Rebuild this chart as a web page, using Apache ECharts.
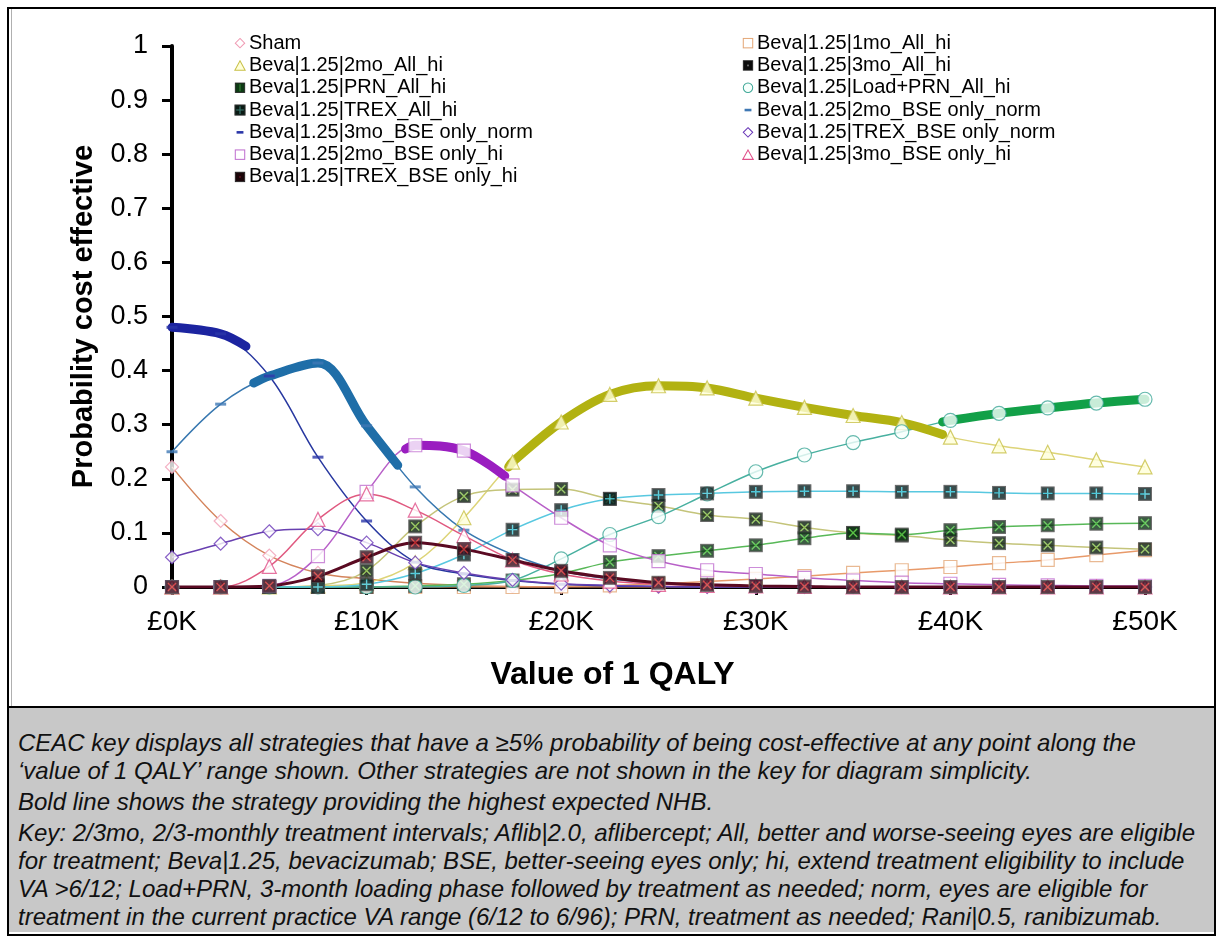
<!DOCTYPE html>
<html>
<head>
<meta charset="utf-8">
<script src="https://cdn.jsdelivr.net/npm/echarts@6/dist/echarts.min.js"></script>
<style>
html,body{margin:0;padding:0;background:#fff;}
#wrap{position:relative;width:1224px;height:943px;overflow:hidden;background:#fff;}
#chart{position:absolute;left:0;top:0;width:1224px;height:706px;}
#frame{position:absolute;left:7px;top:7px;width:1205px;height:925px;border:2px solid #000;pointer-events:none;}
#inner{position:absolute;left:11px;top:9px;width:1px;height:697px;background:#b0b0b0;}
#caption{position:absolute;left:9px;top:706px;width:1205px;height:226px;background:#c8c8c8;border-top:2px solid #000;
  font-family:'Liberation Sans',Arial,sans-serif;font-style:italic;font-size:24px;color:#111;box-sizing:border-box;padding:21px 0 0 9px;}
#caption p{margin:0 0 3px 0;line-height:28px;white-space:nowrap;}
</style>
</head>
<body>
<div id="wrap">
  <div id="chart"></div>
  <div id="inner"></div>
  <div id="caption">
    <p>CEAC key displays all strategies that have a ≥5% probability of being cost-effective at any point along the<br>‘value of 1 QALY’ range shown. Other strategies are not shown in the key for diagram simplicity.</p>
    <p>Bold line shows the strategy providing the highest expected NHB.</p>
    <p>Key: 2/3mo, 2/3-monthly treatment intervals; Aflib|2.0, aflibercept; All, better and worse-seeing eyes are eligible<br>for treatment; Beva|1.25, bevacizumab; BSE, better-seeing eyes only; hi, extend treatment eligibility to include<br>VA &gt;6/12; Load+PRN, 3-month loading phase followed by treatment as needed; norm, eyes are eligible for<br>treatment in the current practice VA range (6/12 to 6/96); PRN, treatment as needed; Rani|0.5, ranibizumab.</p>
  </div>
  <div id="frame"></div>
</div>
<script>
// ---------------- DATA ----------------
const xValues = [0,2500,5000,7500,10000,12500,15000,17500,20000,22500,25000,27500,30000,32500,35000,37500,40000,42500,45000,47500,50000];
const xTickLabels = ['£0K','£10K','£20K','£30K','£40K','£50K'];
const yTickLabels = ['0','0.1','0.2','0.3','0.4','0.5','0.6','0.7','0.8','0.9','1'];

const sham          = [0.222,0.122,0.058,0.026,0.015,0.007,0.003,0.001,0,0,0,0,0,0,0,0,0,0,0,0,0];
const mo1AllHi      = [0,0,0,0,0,0,0,0,0.001,0.003,0.006,0.010,0.015,0.020,0.026,0.031,0.037,0.044,0.050,0.059,0.068];
const mo2AllHi      = [0,0,0,0.002,0.008,0.045,0.128,0.231,0.305,0.356,0.372,0.368,0.349,0.332,0.317,0.304,0.277,0.261,0.249,0.235,0.222];
const mo3AllHi      = [0,0,0,0.003,0.030,0.112,0.168,0.180,0.181,0.163,0.150,0.133,0.125,0.110,0.100,0.095,0.087,0.081,0.077,0.073,0.070];
const prnAllHi      = [0,0,0,0,0,0.002,0.005,0.012,0.025,0.046,0.057,0.067,0.077,0.090,0.100,0.097,0.105,0.111,0.114,0.117,0.118];
const loadPrnAllHi  = [0,0,0,0,0,0,0.003,0.012,0.052,0.097,0.130,0.172,0.213,0.244,0.267,0.287,0.308,0.321,0.331,0.340,0.347];
const trexAllHi     = [0,0,0,0,0.005,0.025,0.060,0.106,0.142,0.163,0.170,0.173,0.176,0.177,0.177,0.176,0.176,0.174,0.173,0.173,0.172];
const mo2BseNorm    = [0.250,0.338,0.390,0.414,0.298,0.185,0.105,0.060,0.030,0.015,0.008,0.004,0.002,0.001,0,0,0,0,0,0,0];
const mo3BseNorm    = [0.480,0.468,0.390,0.240,0.122,0.046,0.024,0.012,0.005,0.002,0.001,0,0,0,0,0,0,0,0,0,0];
const trexBseNorm   = [0.055,0.080,0.103,0.107,0.082,0.045,0.026,0.013,0.006,0.003,0.001,0,0,0,0,0,0,0,0,0,0];
const mo2BseHi      = [0,0,0.002,0.057,0.176,0.262,0.252,0.188,0.128,0.077,0.048,0.031,0.024,0.017,0.012,0.008,0.006,0.004,0.003,0.002,0.002];
const mo3BseHi      = [0,0,0.038,0.125,0.172,0.142,0.095,0.050,0.024,0.011,0.005,0.003,0.002,0.001,0,0,0,0,0,0,0];
const trexBseHi     = [0,0,0.002,0.020,0.055,0.082,0.070,0.050,0.030,0.017,0.008,0.004,0.002,0.001,0,0,0,0,0,0,0];

// bold "highest expected NHB" segments: [series, from £, to £, value at from, value at to]
const boldSegments = [
  ['Beva|1.25|3mo_BSE only_norm', 0, 3800, 0.480, 0.445],
  ['Beva|1.25|2mo_BSE only_norm', 4200, 11600, 0.377, 0.225],
  ['Beva|1.25|2mo_BSE only_hi', 12000, 17100, 0.255, 0.205],
  ['Beva|1.25|2mo_All_hi', 17300, 39600, 0.222, 0.282],
  ['Beva|1.25|Load+PRN_All_hi', 39600, 50000, 0.305, 0.347]
];

const leftLegend  = ['Sham','Beva|1.25|2mo_All_hi','Beva|1.25|PRN_All_hi','Beva|1.25|TREX_All_hi','Beva|1.25|3mo_BSE only_norm','Beva|1.25|2mo_BSE only_hi','Beva|1.25|TREX_BSE only_hi'];
const rightLegend = ['Beva|1.25|1mo_All_hi','Beva|1.25|3mo_All_hi','Beva|1.25|Load+PRN_All_hi','Beva|1.25|2mo_BSE only_norm','Beva|1.25|TREX_BSE only_norm','Beva|1.25|3mo_BSE only_hi'];

// ---------------- STYLES ----------------
const svgURI = s => 'image://data:image/svg+xml;charset=utf-8,' + encodeURIComponent('<svg xmlns="http://www.w3.org/2000/svg" width="14" height="14" viewBox="0 0 14 14">' + s + '</svg>');
const shapes = {
  diamond: (f,c) => `<path d="M7,1.5L12.5,7L7,12.5L1.5,7Z" fill="${f}" stroke="${c}" stroke-width="1.2"/>`,
  square:  (f,c) => `<rect x="1.5" y="1.5" width="11" height="11" fill="${f}" stroke="${c}" stroke-width="1.2"/>`,
  triangle:(f,c) => `<path d="M7,1.5L13,12.5H1Z" fill="${f}" stroke="${c}" stroke-width="1.2"/>`,
  circle:  (f,c) => `<circle cx="7" cy="7" r="5.5" fill="${f}" stroke="${c}" stroke-width="1.2"/>`,
  dash:    (f,c) => `<rect x="3" y="5.5" width="8" height="3" fill="${c}"/>`,
  xsq:     (f,c) => `<rect x="1" y="1" width="12" height="12" fill="${f}" stroke="#444" stroke-width="1"/><path d="M3.2,3.2L10.8,10.8M10.8,3.2L3.2,10.8" stroke="${c}" stroke-width="1.3" fill="none"/>`,
  psq:     (f,c) => `<rect x="1" y="1" width="12" height="12" fill="${f}" stroke="#444" stroke-width="1"/><path d="M7,2.5V11.5M2.5,7H11.5" stroke="${c}" stroke-width="1.3" fill="none"/>`,
  dsq:     (f,c) => `<rect x="1.5" y="1.5" width="11" height="11" fill="${f}" stroke="#222" stroke-width="1"/><rect x="6" y="6" width="2" height="2" fill="${c}"/>`,
  vsq:     (f,c) => `<rect x="1.5" y="1.5" width="11" height="11" fill="${f}" stroke="#222" stroke-width="1"/><path d="M7,3V11" stroke="${c}" stroke-width="1.2"/>`
};
const style = {
  'Sham':                         {shape:'diamond', fill:'#ffffff', mk:'#f09cb4', line:'#d4845c', w:1.5},
  'Beva|1.25|1mo_All_hi':         {shape:'square',  fill:'#ffffff', mk:'#e4a878', line:'#e89a6a', w:1.5},
  'Beva|1.25|2mo_All_hi':         {shape:'triangle',fill:'#ffffd8', mk:'#c8c048', line:'#ddd478', w:1.5},
  'Beva|1.25|3mo_All_hi':         {shape:'xsq',     fill:'#0a1e0c', mk:'#86c04a', line:'#c4c47a', w:1.5, legend:'dsq', lfill:'#0c0c0c', lmk:'#777'},
  'Beva|1.25|PRN_All_hi':         {shape:'xsq',     fill:'#0c3414', mk:'#4cc040', line:'#58b858', w:1.5, legend:'vsq', lfill:'#0e3a14', lmk:'#3a8a3a'},
  'Beva|1.25|Load+PRN_All_hi':    {shape:'circle',  fill:'#f6fffc', mk:'#40a898', line:'#48b0a0', w:1.5},
  'Beva|1.25|TREX_All_hi':        {shape:'psq',     fill:'#082020', mk:'#48c8d8', line:'#58c8e0', w:1.5, legend:'psq', lfill:'#0a1a14', lmk:'#3a7a70'},
  'Beva|1.25|2mo_BSE only_norm':  {shape:'dash',    fill:'#3f78b4', mk:'#3f78b4', line:'#3878b0', w:1.5},
  'Beva|1.25|3mo_BSE only_norm':  {shape:'dash',    fill:'#2a36a8', mk:'#2a36a8', line:'#2838a0', w:1.5},
  'Beva|1.25|TREX_BSE only_norm': {shape:'diamond', fill:'#ffffff', mk:'#6a38b8', line:'#6840b0', w:1.5},
  'Beva|1.25|2mo_BSE only_hi':    {shape:'square',  fill:'#ffffff', mk:'#c070d0', line:'#b860c8', w:1.5},
  'Beva|1.25|3mo_BSE only_hi':    {shape:'triangle',fill:'#ffffff', mk:'#e0508a', line:'#e05a80', w:1.5},
  'Beva|1.25|TREX_BSE only_hi':   {shape:'xsq',     fill:'#3a0818', mk:'#d03030', line:'#5a0a22', w:3, legend:'dsq', lfill:'#1a0408', lmk:'#5a1020'}
};
const boldColor = {
  'Beva|1.25|3mo_BSE only_norm':'#1c24a0',
  'Beva|1.25|2mo_BSE only_norm':'#1f6ea8',
  'Beva|1.25|2mo_BSE only_hi':'#9a1ec0',
  'Beva|1.25|2mo_All_hi':'#b2b212',
  'Beva|1.25|Load+PRN_All_hi':'#12a048'
};
const valuesByName = {
  'Sham':sham,
  'Beva|1.25|1mo_All_hi':mo1AllHi,
  'Beva|1.25|2mo_All_hi':mo2AllHi,
  'Beva|1.25|3mo_All_hi':mo3AllHi,
  'Beva|1.25|PRN_All_hi':prnAllHi,
  'Beva|1.25|Load+PRN_All_hi':loadPrnAllHi,
  'Beva|1.25|TREX_All_hi':trexAllHi,
  'Beva|1.25|2mo_BSE only_norm':mo2BseNorm,
  'Beva|1.25|3mo_BSE only_norm':mo3BseNorm,
  'Beva|1.25|TREX_BSE only_norm':trexBseNorm,
  'Beva|1.25|2mo_BSE only_hi':mo2BseHi,
  'Beva|1.25|3mo_BSE only_hi':mo3BseHi,
  'Beva|1.25|TREX_BSE only_hi':trexBseHi
};
const drawOrder = Object.keys(valuesByName);

const markerIcon = n => { const s = style[n]; return svgURI(shapes[s.shape](s.fill, s.mk)); };
const legendIcon = n => { const s = style[n]; return s.legend ? svgURI(shapes[s.legend](s.lfill, s.lmk)) : svgURI(shapes[s.shape](s.fill, s.mk)); };

function markerOpts(n){
  const s = style[n];
  if (s.shape === 'xsq' || s.shape === 'psq') return {symbol: markerIcon(n), symbolSize: 15, itemStyle:{color:s.fill}};
  if (s.shape === 'dash') return {symbol:'rect', symbolSize:[11,3], itemStyle:{color:s.mk}};
  const map = {diamond:'diamond', square:'rect', triangle:'triangle', circle:'circle'};
  const size = {diamond:13, square:13, triangle:14, circle:14}[s.shape];
  return {symbol: map[s.shape], symbolSize: size, itemStyle:{color:s.fill, borderColor:s.mk, borderWidth:1.2}};
}

const series = [];
// thin smoothed curves
drawOrder.forEach((n, k) => {
  const s = style[n];
  series.push({
    name:n, type:'line', z:2, zlevel:0,
    data: xValues.map((x,i) => [x, valuesByName[n][i]]),
    smooth:0.35, symbol:'none', silent:true,
    lineStyle:{color:s.line, width:s.w}, itemStyle:{color:s.line}
  });
});
// bold segments
boldSegments.forEach(([n, from, to, v0, v1]) => {
  const vals = valuesByName[n];
  const data = [[from, v0]];
  xValues.forEach((x,i) => { if (x > from && x < to) data.push([x, vals[i]]); });
  data.push([to, v1]);
  series.push({name:'bold ' + n, type:'line', data, smooth:0.35, symbol:'none', silent:true, z:3,
    lineStyle:{color:boldColor[n], width:9, cap:'round', join:'round'}});
});
// markers
drawOrder.forEach((n, k) => {
  series.push(Object.assign({
    name:n, type:'scatter', z:4 + k * 0.01, silent:true,
    data: xValues.map((x,i) => [x, valuesByName[n][i]])
  }, markerOpts(n)));
});

const font = "'Liberation Sans', Arial, sans-serif";
const legendCommon = {
  orient:'vertical', top:27, itemWidth:12, itemHeight:12, itemGap:0, selectedMode:false,
  textStyle:{fontFamily:font, fontSize:20, color:'#000', lineHeight:22.3, padding:[0,0,0,-2]}
};

const chart = echarts.init(document.getElementById('chart'), null, {renderer:'canvas'});
chart.setOption({
  animation:false,
  backgroundColor:'transparent',
  grid:{left:172, top:46, width:973, height:541, containLabel:false},
  legend:[
    Object.assign({left:229, data:leftLegend.map(n => ({name:n, icon:legendIcon(n)}))}, legendCommon),
    Object.assign({left:737, data:rightLegend.map(n => ({name:n, icon:legendIcon(n)}))}, legendCommon)
  ],
  xAxis:{
    type:'value', min:0, max:50000, interval:10000,
    name:'Value of 1 QALY', nameLocation:'middle', nameGap:72,
    nameTextStyle:{fontFamily:font, fontSize:32, fontWeight:'bold', color:'#000', verticalAlign:'top', padding:[0,92,0,0]},
    axisLine:{show:true, onZero:false, lineStyle:{color:'#000', width:3}},
    axisTick:{show:true, length:8, lineStyle:{color:'#000', width:3}},
    axisLabel:{fontFamily:font, fontSize:28, color:'#000', margin:21,
      formatter: v => xTickLabels[Math.round(v / 10000)]},
    splitLine:{show:false}
  },
  yAxis:{
    type:'value', min:0, max:1, interval:0.1,
    name:'Probability cost effective', nameLocation:'middle', nameGap:74,
    nameTextStyle:{fontFamily:font, fontSize:29, fontWeight:'bold', color:'#000'},
    axisLine:{show:true, lineStyle:{color:'#000', width:4}},
    axisTick:{show:true, length:10, lineStyle:{color:'#000', width:3}},
    axisLabel:{fontFamily:font, fontSize:27, color:'#000', margin:24,
      formatter: v => yTickLabels[Math.round(v * 10)]},
    splitLine:{show:false}
  },
  series
});
</script>
</body>
</html>
